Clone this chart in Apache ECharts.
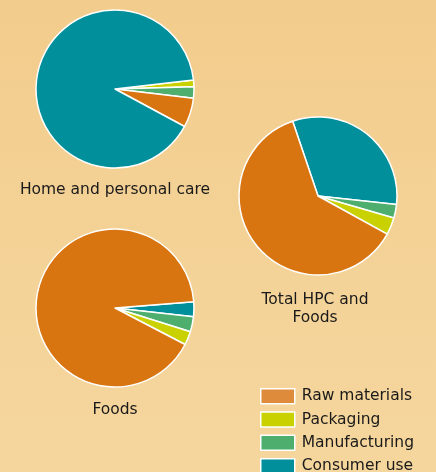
<!DOCTYPE html>
<html>
<head>
<meta charset="utf-8">
<script src="https://cdn.jsdelivr.net/npm/echarts@6/dist/echarts.min.js"></script>
<style>
html,body{margin:0;padding:0;}
#c{width:436px;height:472px;background:linear-gradient(180deg,#F2CC8C 0%,#F4D398 60%,#F5D69D 100%);}
</style>
</head>
<body>
<div id="c"></div>
<script>
const categories = ['Raw materials', 'Packaging', 'Manufacturing', 'Consumer use'];
const sliceColors = ['#D87511', '#C9D200', '#4DAE6E', '#01909B'];
const legendColors = ['#DE8B3B', '#C9D200', '#4DAE6E', '#01909B'];

const hpcValues = [6.0, 1.4, 2.3, 90.3];
const totalValues = [61.8, 3.5, 2.8, 31.9];
const foodsValues = [91.1, 2.8, 3.1, 3.0];

const hpcOrder = [1, 2, 0, 3];
const totalOrder = [3, 2, 1, 0];
const foodsOrder = [3, 2, 1, 0];

const pieLabels = ['Home and personal care', 'Total HPC and\nFoods', 'Foods'];

function buildData(values, order) {
  return order.map(i => ({
    name: categories[i],
    value: values[i],
    itemStyle: { color: sliceColors[i] }
  }));
}

function pieSeries(values, order, center, startAngle) {
  return {
    type: 'pie',
    center: center,
    radius: 79,
    startAngle: startAngle,
    clockwise: true,
    silent: true,
    label: { show: false },
    labelLine: { show: false },
    itemStyle: { borderColor: '#ffffff', borderWidth: 1.5 },
    data: buildData(values, order)
  };
}

const font = 'DejaVu Sans';
const txt = { fontFamily: font, fontSize: 15.5, fontWeight: 'normal', color: '#1a1a1a' };
const chart = echarts.init(document.getElementById('c'), null, { renderer: 'canvas' });
chart.setOption({
  animation: false,
  title: [
    { text: pieLabels[0], left: 115, top: 182, textAlign: 'center', padding: 0, textStyle: txt },
    { text: pieLabels[1], left: 315, top: 291, textAlign: 'center', padding: 0,
      textStyle: Object.assign({}, txt, { lineHeight: 18 }) },
    { text: pieLabels[2], left: 115, top: 402, textAlign: 'center', padding: 0, textStyle: txt }
  ],
  legend: {
    orient: 'vertical',
    left: 260,
    top: 388,
    height: 140,
    itemWidth: 34,
    itemHeight: 15,
    itemGap: 6.8,
    icon: 'rect',
    selectedMode: false,
    padding: 0,
    textStyle: { fontFamily: font, fontSize: 15.5, color: '#1a1a1a', lineHeight: 16, padding: [0, 0, 0, 2] },
    data: categories.map((c, i) => ({ name: c, itemStyle: { color: legendColors[i], borderColor: '#ffffff', borderWidth: 1.5 } }))
  },
  series: [
    pieSeries(hpcValues, hpcOrder, [115, 89], 6.6),
    pieSeries(totalValues, totalOrder, [318, 196], 108.7),
    pieSeries(foodsValues, foodsOrder, [115, 308], 4.5)
  ]
});
</script>
</body>
</html>
